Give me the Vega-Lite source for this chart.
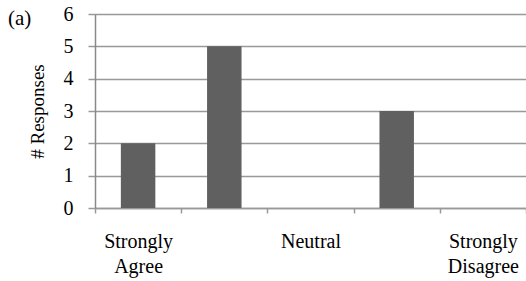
{
  "$schema": "https://vega.github.io/schema/vega-lite/v6.json",
  "width": 431,
  "height": 194,
  "autosize": "none",
  "padding": {"left": 95, "top": 14, "right": 0, "bottom": 73},
  "background": "white",
  "title": {"text": "(a)", "anchor": "start", "frame": "group", "dx": -87, "dy": 42, "baseline": "alphabetic", "offset": 0, "font": "Liberation Serif", "fontSize": 21, "fontWeight": "normal", "color": "black"},
  "data": {"values": [
    {"response": "Strongly Agree", "count": 2},
    {"response": "Agree", "count": 5},
    {"response": "Neutral", "count": 0},
    {"response": "Disagree", "count": 3},
    {"response": "Strongly Disagree", "count": 0}
  ]},
  "mark": {"type": "bar", "color": "#606060", "width": {"band": 0.4}},
  "encoding": {
    "x": {
      "field": "response", "type": "nominal", "sort": null,
      "scale": {"paddingInner": 0, "paddingOuter": 0},
      "axis": {
        "title": null, "labelAngle": 0, "tickBand": "extent", "grid": false,
        "domainColor": "#999", "domainWidth": 1.5, "tickColor": "#999", "tickWidth": 1.5, "tickSize": 5,
        "labelFont": "Liberation Serif", "labelFontSize": 20, "labelColor": "black", "labelPadding": 18,
        "labelLineHeight": 25, "labelBaseline": "top", "labelOverlap": false,
        "labelExpr": "datum.value == 'Strongly Agree' ? ['Strongly', 'Agree'] : datum.value == 'Neutral' ? 'Neutral' : datum.value == 'Strongly Disagree' ? ['Strongly', 'Disagree'] : ''"
      }
    },
    "y": {
      "field": "count", "type": "quantitative",
      "scale": {"domain": [0, 6], "nice": false},
      "axis": {
        "title": "# Responses", "titleFont": "Liberation Serif", "titleFontSize": 19, "titleFontWeight": "normal", "titleColor": "black", "titlePadding": 16,
        "values": [0, 1, 2, 3, 4, 5, 6], "labelOverlap": false,
        "grid": true, "gridColor": "#999", "gridWidth": 1.5,
        "domainColor": "#888", "domainWidth": 1.5, "tickColor": "#999", "tickWidth": 1.5, "tickSize": 7,
        "labelFont": "Liberation Serif", "labelFontSize": 20, "labelColor": "black", "labelPadding": 15
      }
    }
  },
  "config": {"view": {"stroke": null}}
}
